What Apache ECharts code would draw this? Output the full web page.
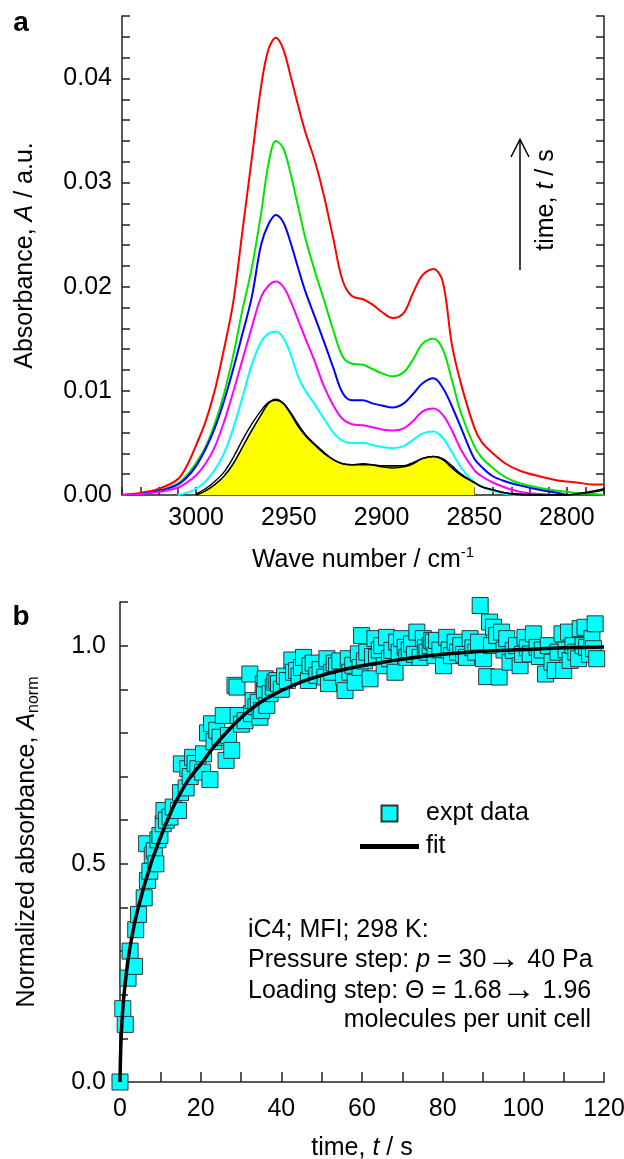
<!DOCTYPE html>
<html><head><meta charset="utf-8">
<script src="https://cdn.jsdelivr.net/npm/echarts@6/dist/echarts.min.js"></script>
<style>html,body{margin:0;padding:0;background:#fff}#c{width:624px;height:1159px}</style>
</head><body><div id="c"></div>
<script>
const FONT = '"Liberation Sans", Arial, Helvetica, sans-serif';
const FS = 25;

// ---------- Panel a: IR spectra ----------
const waveNumbers = [3040,3030,3020,3010,3005,3000,2995,2990,2985,2980,2975,2970,2965,2961,2957,2953,2949,2945,2941,2936,2931,2926,2921,2916,2910,2905,2900,2894,2888,2883,2878,2872,2867,2862,2857,2850,2846,2840,2833,2825,2815,2805,2800,2795,2785,2780];
const absRed =     [0.0000,0.0002,0.0006,0.0015,0.0028,0.0048,0.0070,0.0100,0.0140,0.0185,0.0254,0.0323,0.0392,0.0428,0.0439,0.0428,0.0402,0.0374,0.0348,0.0321,0.0287,0.0246,0.0206,0.0191,0.0188,0.0183,0.0176,0.0170,0.0175,0.0194,0.0211,0.0217,0.0205,0.0144,0.0106,0.0065,0.0051,0.0040,0.0030,0.0023,0.0018,0.0014,0.0013,0.0012,0.0010,0.0010];
const absGreen =   [0.0000,0.0001,0.0004,0.0011,0.0019,0.0031,0.0046,0.0068,0.0097,0.0134,0.0178,0.0218,0.0270,0.0318,0.0340,0.0333,0.0308,0.0277,0.0246,0.0215,0.0187,0.0158,0.0133,0.0126,0.0125,0.0121,0.0117,0.0114,0.0118,0.0130,0.0145,0.0150,0.0140,0.0110,0.0078,0.0047,0.0036,0.0026,0.0017,0.0011,0.0007,0.0004,0.0003,0.0002,0.0001,0.0000];
const absBlue =    [0.0000,0.0001,0.0004,0.0010,0.0017,0.0028,0.0044,0.0064,0.0090,0.0121,0.0155,0.0190,0.0240,0.0260,0.0269,0.0262,0.0242,0.0218,0.0195,0.0171,0.0147,0.0122,0.0098,0.0091,0.0091,0.0088,0.0086,0.0084,0.0088,0.0097,0.0107,0.0112,0.0103,0.0085,0.0064,0.0035,0.0027,0.0018,0.0013,0.0009,0.0005,0.0002,0.0000,null,null,null];
const absMagenta = [0.0000,0.0001,0.0003,0.0007,0.0012,0.0019,0.0030,0.0046,0.0070,0.0099,0.0130,0.0161,0.0190,0.0201,0.0205,0.0200,0.0186,0.0168,0.0150,0.0128,0.0104,0.0086,0.0073,0.0068,0.0067,0.0065,0.0063,0.0062,0.0064,0.0071,0.0080,0.0083,0.0077,0.0062,0.0043,0.0024,0.0018,0.0012,0.0007,0.0003,0.0001,0.0000,null,null,null,null];
const absCyan =    [null,null,null,0.0000,0.0002,0.0006,0.0013,0.0024,0.0040,0.0064,0.0094,0.0125,0.0147,0.0155,0.0157,0.0151,0.0135,0.0114,0.0100,0.0087,0.0073,0.0060,0.0052,0.0050,0.0050,0.0048,0.0046,0.0045,0.0047,0.0053,0.0059,0.0061,0.0055,0.0041,0.0026,0.0012,0.0008,0.0004,0.0001,0.0000,null,null,null,null,null,null];
const absBlack1 =  [null,null,null,null,null,0.0000,0.0004,0.0010,0.0018,0.0030,0.0046,0.0062,0.0077,0.0088,0.0092,0.0088,0.0078,0.0066,0.0057,0.0048,0.0040,0.0034,0.0030,0.0029,0.0029,0.0029,0.0028,0.0028,0.0028,0.0031,0.0035,0.0037,0.0034,0.0026,0.0019,0.0012,0.0008,0.0005,0.0002,0.0001,0.0000,0.0000,0.0000,0.0001,0.0004,0.0006];
const absBlack2 =  [null,null,null,null,null,0.0001,0.0006,0.0013,0.0022,0.0036,0.0053,0.0068,0.0081,0.0089,0.0091,0.0088,0.0079,0.0068,0.0058,0.0049,0.0041,0.0034,0.0030,0.0029,0.0030,0.0029,0.0027,0.0026,0.0027,0.0030,0.0035,0.0037,0.0035,0.0028,0.0020,0.0012,0.0008,0.0005,0.0002,0.0000,0.0000,0.0000,0.0000,0.0001,0.0003,0.0005];
const fillFrom = 3000, fillTo = 2850;   // yellow integration window
const waveTickLabels = [3000,2950,2900,2850,2800];
const absTickLabels = [0,0.01,0.02,0.03,0.04];

// ---------- Panel b: uptake transient ----------
const exptTime = [0,0.7,1.3,2.0,2.5,3.6,3.9,4.6,6.0,6.6,6.8,7.4,8.0,8.5,8.9,9.4,9.9,10.7,10.9,11.5,12.4,13.2,14.5,15.0,15.2,16.4,16.8,17.4,18.0,18.6,19.3,20.5,20.7,21.7,22.3,22.7,23.3,24.0,24.8,25.6,26.3,26.9,27.7,28.5,29.0,29.3,30.1,31.0,32.2,32.6,33.0,33.7,34.3,34.7,35.1,35.5,35.8,36.0,36.4,37.2,38.0,38.4,38.9,39.3,40.0,40.8,41.5,42.6,43.0,43.8,44.4,45.0,45.5,46.7,47.1,47.9,48.8,49.6,50.8,51.3,51.7,52.5,53.1,53.7,54.5,55.4,55.8,56.6,57.0,57.7,58.3,59.1,59.5,59.9,60.6,61.2,62.0,62.6,63.2,63.6,64.3,64.9,65.5,66.1,66.8,67.4,68.2,68.6,69.2,69.8,70.7,71.1,71.7,72.3,73.0,73.6,74.4,75.2,75.7,76.1,76.9,77.3,77.7,78.1,78.5,79.3,80.2,81.0,81.6,82.2,83.1,83.7,84.5,85.2,85.9,86.8,87.5,88.2,88.9,89.3,90.1,90.9,91.6,92.1,92.6,93.4,94.0,94.6,95.2,95.9,96.7,97.5,98.3,99.2,99.8,100.4,101.0,101.7,102.5,103.4,104.0,104.7,105.5,106.2,107.1,107.9,108.6,109.6,110.0,110.6,111.2,111.6,112.3,113.0,113.7,114.1,114.8,115.3,115.7,116.4,117.0,117.4,117.8,118.2];
const exptNorm = [0.000,0.168,0.132,0.238,0.300,0.265,0.349,0.384,0.422,0.546,0.462,0.483,0.520,0.530,0.500,0.555,0.565,0.592,0.622,0.600,0.607,0.630,0.622,0.663,0.729,0.674,0.718,0.700,0.744,0.730,0.718,0.710,0.752,0.800,0.693,0.821,0.780,0.806,0.790,0.840,0.737,0.794,0.760,0.909,0.905,0.840,0.820,0.828,0.935,0.844,0.874,0.860,0.870,0.836,0.851,0.912,0.897,0.924,0.863,0.890,0.905,0.916,0.920,0.913,0.900,0.930,0.920,0.967,0.939,0.943,0.930,0.950,0.973,0.920,0.954,0.960,0.932,0.945,0.928,0.970,0.913,0.939,0.960,0.954,0.965,0.928,0.897,0.970,0.939,0.955,0.916,0.981,0.950,1.023,0.965,0.985,0.924,0.975,1.016,0.973,0.990,1.000,0.954,1.019,0.970,0.989,0.939,1.008,0.985,1.016,0.996,0.973,0.990,1.004,0.980,1.031,0.973,1.016,0.995,0.985,1.000,1.012,1.008,0.977,1.012,0.990,0.954,1.019,0.990,0.977,1.008,0.985,1.000,0.980,0.973,1.016,0.995,0.985,1.008,1.092,0.970,0.929,1.054,1.000,1.042,1.023,0.928,1.031,0.990,1.016,0.962,0.989,1.000,0.954,0.980,1.019,0.995,0.981,1.027,0.996,0.975,0.990,0.935,1.000,0.962,0.943,0.985,1.027,0.943,0.990,1.031,0.966,1.000,0.985,0.970,1.039,1.000,1.042,0.996,0.980,1.016,0.993,1.050,0.970];
const fitTime = [0,0.2,0.5,1,2,3,4,5,6,7,8,9,10,12,14,17,20,23,26,29,32,36,40,45,50,55,60,70,80,90,100,110,120];
const fitNorm = [0,0.08,0.14,0.20,0.28,0.335,0.38,0.415,0.45,0.48,0.51,0.535,0.56,0.605,0.645,0.693,0.728,0.765,0.797,0.826,0.851,0.877,0.897,0.917,0.932,0.944,0.954,0.969,0.980,0.987,0.991,0.995,0.997];
const timeTickLabels = [0,20,40,60,80,100,120];
const normTickLabels = [0,0.5,1.0];

// ---------- build ----------
const pairs = (xs, ys) => xs.map((x, i) => [x, ys[i]]).filter(p => p[1] !== null);
const has = (arr, v) => arr.some(t => Math.abs(t - v) < 1e-9);
const AX = '#222';
const axisCommon = {
  axisLine: { show: true, onZero: false, lineStyle: { color: AX, width: 1.5 } },
  axisTick: { show: true, inside: true, length: 8, lineStyle: { color: AX, width: 1.5 } },
  splitLine: { show: false },
  nameMoveOverlap: false
};
const labelStyle = { color: '#000', fontSize: FS, fontFamily: FONT, hideOverlap: false };
const richBase = {
  n: { fontSize: FS, fontFamily: FONT, color: '#000', lineHeight: 30 },
  i: { fontSize: FS, fontFamily: FONT, color: '#000', fontStyle: 'italic', lineHeight: 30 },
  ar: { fontSize: 34, fontFamily: FONT, color: '#000', lineHeight: 30 },
  sup: { fontSize: 15, fontFamily: FONT, color: '#000', verticalAlign: 'top', lineHeight: 16 },
  sub: { fontSize: 16, fontFamily: FONT, color: '#000', verticalAlign: 'bottom', lineHeight: 14 }
};
const nameStyle = { fontSize: FS, fontFamily: FONT, color: '#000', lineHeight: 30, rich: richBase };

const specLine = (name, ys, color, width, z) => ({
  type: 'line', name, xAxisIndex: 0, yAxisIndex: 0, data: pairs(waveNumbers, ys),
  showSymbol: false, symbol: 'none', smooth: 0.35, z: z || 3, silent: true,
  lineStyle: { color, width }, itemStyle: { color }
});
const fillData = pairs(waveNumbers, absBlack1).filter(p => p[0] <= fillFrom && p[0] >= fillTo);

const chart = echarts.init(document.getElementById('c'), null, { renderer: 'canvas' });
chart.setOption({
  animation: false,
  backgroundColor: '#fff',
  grid: [
    { left: 122, top: 16, width: 482, height: 479, outerBoundsMode: 'none' },
    { left: 120, top: 602, width: 484, height: 480, outerBoundsMode: 'none' }
  ],
  xAxis: [
    Object.assign({}, axisCommon, {
      gridIndex: 0, type: 'value', min: 2780, max: 3040, interval: 10, inverse: true, position: 'bottom',
      axisLabel: Object.assign({}, labelStyle, { margin: 11, formatter: v => has(waveTickLabels, v) ? String(v) : '' }),
      name: '{n|Wave number / cm}{sup|-1}', nameLocation: 'middle', nameGap: 50, nameTextStyle: nameStyle
    }),
    Object.assign({}, axisCommon, {
      gridIndex: 1, type: 'value', min: 0, max: 120, interval: 10, position: 'bottom',
      axisTick: { show: true, inside: true, length: 10, lineStyle: { color: AX, width: 1.5 } },
      axisLabel: Object.assign({}, labelStyle, { margin: 15, formatter: v => has(timeTickLabels, v) ? String(v) : '' }),
      name: '{n|time, }{i|t}{n| / s}', nameLocation: 'middle', nameGap: 51, nameTextStyle: nameStyle
    })
  ],
  yAxis: [
    Object.assign({}, axisCommon, {
      gridIndex: 0, type: 'value', min: 0, max: 0.046, interval: 0.002, position: 'left',
      axisLabel: Object.assign({}, labelStyle, { margin: 10, formatter: v => has(absTickLabels, v) ? v.toFixed(2) : '' }),
      name: '{n|Absorbance, }{i|A}{n| / a.u.}', nameLocation: 'middle', nameGap: 82, nameTextStyle: nameStyle
    }),
    Object.assign({}, axisCommon, {
      gridIndex: 0, type: 'value', min: 0, max: 0.046, interval: 0.002, position: 'right',
      axisLabel: { show: false }
    }),
    Object.assign({}, axisCommon, {
      gridIndex: 1, type: 'value', min: 0, max: 1.1, interval: 0.1, position: 'left',
      axisLabel: Object.assign({}, labelStyle, { margin: 14, formatter: v => has(normTickLabels, v) ? v.toFixed(1) : '' }),
      name: '{n|Normalized absorbance, }{i|A}{sub|norm}', nameLocation: 'middle', nameGap: 78, nameTextStyle: nameStyle
    })
  ],
  legend: {
    show: true, orient: 'vertical', left: 355, top: 796, itemWidth: 59, itemHeight: 16, itemGap: 8,
    selectedMode: false, symbolKeepAspect: true,
    data: [{ name: 'expt data', icon: 'path://M0,0H10V10H0Z' }, { name: 'fit', icon: 'path://M0,0H59V5H0Z', itemStyle: { color: '#000', borderWidth: 0 } }],
    textStyle: { fontSize: FS, fontFamily: FONT, color: '#000', padding: [0, 0, 0, 2] }
  },
  series: [
    { type: 'line', name: 'integrated area', xAxisIndex: 0, yAxisIndex: 0, data: fillData, showSymbol: false, symbol: 'none',
      smooth: 0.35, silent: true, z: 1, lineStyle: { width: 0 }, areaStyle: { color: '#FFFF00', opacity: 1 } },
    specLine('red', absRed, '#FF0000', 2),
    specLine('green', absGreen, '#00E600', 2),
    specLine('blue', absBlue, '#0000FF', 2),
    specLine('magenta', absMagenta, '#FF00FF', 2),
    specLine('cyan', absCyan, '#00FFFF', 2),
    specLine('black1', absBlack1, '#000000', 1.6, 4),
    specLine('black2', absBlack2, '#000000', 1.4, 4),
    { type: 'scatter', name: 'expt data', xAxisIndex: 1, yAxisIndex: 2, data: pairs(exptTime, exptNorm),
      symbol: 'rect', symbolSize: 16, z: 3,
      itemStyle: { color: '#00FFFF', borderColor: '#333', borderWidth: 1, opacity: 1 } },
    { type: 'line', name: 'fit', xAxisIndex: 1, yAxisIndex: 2, data: pairs(fitTime, fitNorm),
      showSymbol: false, symbol: 'none', smooth: 0.4, z: 5,
      lineStyle: { color: '#000', width: 3.5 }, itemStyle: { color: '#000' } }
  ],
  graphic: [
    { type: 'text', x: 21, y: 37, style: { text: 'a', fontSize: 28, fontWeight: 'bold', fontFamily: FONT, fill: '#000', align: 'center', verticalAlign: 'bottom' } },
    { type: 'text', x: 21, y: 631, style: { text: 'b', fontSize: 28, fontWeight: 'bold', fontFamily: FONT, fill: '#000', align: 'center', verticalAlign: 'bottom' } },
    { type: 'line', shape: { x1: 520, y1: 270, x2: 520, y2: 140 }, style: { stroke: '#000', lineWidth: 1.5 } },
    { type: 'polyline', shape: { points: [[511, 157], [520, 139.5], [529, 157]] }, style: { stroke: '#000', lineWidth: 1.5, fill: null } },
    { type: 'text', x: 546, y: 200, rotation: Math.PI / 2,
      style: { text: '{n|time, }{i|t}{n| / s}', rich: richBase, align: 'center', verticalAlign: 'middle', fontSize: FS, fontFamily: FONT, fill: '#000' } },
    { type: 'text', x: 248, y: 930, style: { text: 'iC4; MFI; 298 K:', fontSize: FS, fontFamily: FONT, fill: '#000', align: 'left', verticalAlign: 'middle' } },
    { type: 'text', x: 248, y: 960, style: { text: '{n|Pressure step: }{i|p}{n| = 30}{ar|\u2192}{n| 40 Pa}', rich: richBase, fontSize: FS, fontFamily: FONT, fill: '#000', align: 'left', verticalAlign: 'middle' } },
    { type: 'text', x: 248, y: 991, style: { text: '{n|Loading step: \u0398 = 1.68}{ar|\u2192}{n| 1.96}', rich: richBase, fontSize: FS, fontFamily: FONT, fill: '#000', align: 'left', verticalAlign: 'middle' } },
    { type: 'text', x: 591, y: 1020, style: { text: 'molecules per unit cell', fontSize: FS, fontFamily: FONT, fill: '#000', align: 'right', verticalAlign: 'middle' } }
  ]
});
</script></body></html>
